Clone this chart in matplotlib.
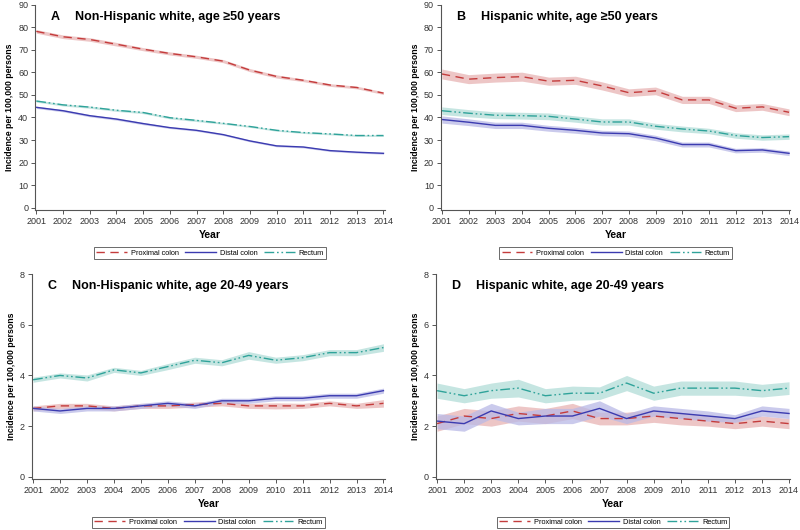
import matplotlib
matplotlib.use("Agg")
import matplotlib.pyplot as plt
from matplotlib.lines import Line2D

plt.rcParams['font.family'] = ['Liberation Sans', 'DejaVu Sans']

years = list(range(2001, 2015))

# panel A: non-Hispanic white, age >=50
a_prox = [78.2, 75.8, 74.6, 72.5, 70.3, 68.4, 66.9, 65.0, 61.0, 58.2, 56.5, 54.4, 53.3, 50.8]
a_prox_ci = [0.8, 0.8, 0.8, 0.8, 0.7, 0.7, 0.7, 0.7, 0.7, 0.7, 0.6, 0.6, 0.6, 0.6]
a_dist = [44.5, 43.0, 40.8, 39.3, 37.3, 35.5, 34.3, 32.4, 29.6, 27.4, 26.9, 25.3, 24.6, 24.1]
a_dist_ci = [0.5, 0.5, 0.5, 0.5, 0.5, 0.4, 0.4, 0.4, 0.4, 0.4, 0.4, 0.4, 0.4, 0.4]
a_rect = [47.3, 45.6, 44.6, 43.2, 42.2, 39.9, 38.7, 37.4, 36.0, 34.3, 33.3, 32.7, 32.0, 32.0]
a_rect_ci = [0.5, 0.5, 0.5, 0.5, 0.5, 0.5, 0.5, 0.4, 0.4, 0.4, 0.4, 0.4, 0.4, 0.4]

# panel B: Hispanic white, age >=50
b_prox = [59.3, 57.0, 57.7, 58.1, 56.1, 56.5, 54.0, 51.0, 51.8, 47.8, 47.8, 44.1, 44.7, 42.3]
b_prox_ci = [2.2, 2.0, 2.0, 2.0, 1.8, 1.8, 1.8, 1.7, 1.7, 1.6, 1.6, 1.5, 1.5, 1.5]
b_dist = [39.1, 37.9, 36.5, 36.5, 35.2, 34.3, 33.1, 32.8, 30.9, 28.0, 28.0, 25.3, 25.6, 24.1]
b_dist_ci = [1.6, 1.5, 1.4, 1.4, 1.3, 1.3, 1.2, 1.2, 1.2, 1.1, 1.1, 1.0, 1.0, 1.0]
b_rect = [43.0, 41.9, 41.0, 40.8, 40.5, 39.3, 38.0, 38.0, 36.1, 34.9, 34.0, 32.0, 31.1, 31.5]
b_rect_ci = [1.7, 1.6, 1.5, 1.5, 1.5, 1.4, 1.4, 1.4, 1.3, 1.3, 1.2, 1.2, 1.2, 1.2]

# panel C: non-Hispanic white, age 20-49
c_prox = [2.7, 2.8, 2.8, 2.7, 2.8, 2.8, 2.85, 2.9, 2.8, 2.8, 2.8, 2.9, 2.8, 2.9]
c_prox_ci = [0.1, 0.1, 0.1, 0.1, 0.1, 0.1, 0.1, 0.1, 0.1, 0.12, 0.1, 0.1, 0.1, 0.15]
c_dist = [2.7, 2.6, 2.7, 2.7, 2.8, 2.9, 2.8, 3.0, 3.0, 3.1, 3.1, 3.2, 3.2, 3.4]
c_dist_ci = [0.1, 0.1, 0.1, 0.1, 0.1, 0.1, 0.1, 0.1, 0.1, 0.1, 0.1, 0.1, 0.1, 0.1]
c_rect = [3.83, 4.0, 3.9, 4.22, 4.1, 4.35, 4.6, 4.5, 4.79, 4.6, 4.7, 4.9, 4.9, 5.1]
c_rect_ci = [0.1, 0.1, 0.12, 0.1, 0.1, 0.12, 0.12, 0.12, 0.15, 0.12, 0.12, 0.12, 0.12, 0.15]

# panel D: Hispanic white, age 20-49
d_prox = [2.1, 2.4, 2.3, 2.5, 2.4, 2.6, 2.3, 2.3, 2.4, 2.3, 2.2, 2.1, 2.2, 2.1]
d_prox_ci = [0.3, 0.3, 0.3, 0.3, 0.3, 0.3, 0.25, 0.25, 0.25, 0.25, 0.2, 0.2, 0.2, 0.2]
d_dist = [2.2, 2.1, 2.6, 2.3, 2.4, 2.4, 2.7, 2.3, 2.6, 2.5, 2.4, 2.3, 2.6, 2.5]
d_dist_ci = [0.3, 0.3, 0.3, 0.25, 0.3, 0.3, 0.3, 0.2, 0.2, 0.2, 0.2, 0.15, 0.2, 0.2]
d_rect = [3.4, 3.2, 3.4, 3.5, 3.2, 3.3, 3.3, 3.7, 3.3, 3.5, 3.5, 3.5, 3.4, 3.5]
d_rect_ci = [0.3, 0.28, 0.3, 0.35, 0.28, 0.28, 0.25, 0.3, 0.28, 0.28, 0.28, 0.28, 0.25, 0.25]

series_names = ["Proximal colon", "Distal colon", "Rectum"]
line_cols = ["#c43c3c", "#3b3bb0", "#2fa39a"]
band_cols = ["#e8b4b4", "#b9b9e6", "#b2ddd8"]
styles = [(0, (6, 4)), "-", (0, (7, 2, 1.2, 2, 1.2, 2))]

panels = [
    ("A", "Non-Hispanic white, age \u226550 years", [0.044, 0.604, 0.437, 0.387],
     (0, 90, 10), [(a_prox, a_prox_ci), (a_dist, a_dist_ci), (a_rect, a_rect_ci)]),
    ("B", "Hispanic white, age \u226550 years", [0.551, 0.604, 0.437, 0.387],
     (0, 90, 10), [(b_prox, b_prox_ci), (b_dist, b_dist_ci), (b_rect, b_rect_ci)]),
    ("C", "Non-Hispanic white, age 20-49 years", [0.040, 0.096, 0.441, 0.387],
     (0, 8, 2), [(c_prox, c_prox_ci), (c_dist, c_dist_ci), (c_rect, c_rect_ci)]),
    ("D", "Hispanic white, age 20-49 years", [0.545, 0.096, 0.443, 0.387],
     (0, 8, 2), [(d_prox, d_prox_ci), (d_dist, d_dist_ci), (d_rect, d_rect_ci)]),
]

fig = plt.figure(figsize=(8, 5.3), dpi=100)
grey = "#555555"

for letter, title, pos, (ylo, yhi, ystep), data in panels:
    ax = fig.add_axes(pos)
    for (vals, ci), lc, bc, ls in zip(data, line_cols, band_cols, styles):
        lo = [v - c for v, c in zip(vals, ci)]
        hi = [v + c for v, c in zip(vals, ci)]
        ax.fill_between(years, lo, hi, color=bc, alpha=0.75, lw=0)
    for (vals, ci), lc, ls in zip(data, line_cols, styles):
        ax.plot(years, vals, color=lc, ls=ls, lw=1.0)
    pad = (yhi - ylo) * 0.011
    ax.set_ylim(ylo - pad, yhi)
    ax.set_xlim(2000.96, 2014.05)
    ax.set_xticks(years)
    ax.set_yticks(range(ylo, yhi + 1, ystep))
    for s in ["top", "right"]:
        ax.spines[s].set_visible(False)
    for s in ["left", "bottom"]:
        ax.spines[s].set_color(grey)
        ax.spines[s].set_linewidth(0.8)
    ax.tick_params(direction="out", length=3, width=0.7, color=grey,
                   labelsize=6.5, labelcolor="#333333", pad=2)
    ax.set_xlabel("Year", fontsize=7.5, fontweight="bold", labelpad=3)
    ax.set_ylabel("Incidence per 100,000 persons", fontsize=6.3, fontweight="bold", labelpad=3)
    ax.text(0.043, 0.94, letter, transform=ax.transAxes, fontsize=9,
            fontweight="bold", va="center")
    ax.text(0.114, 0.94, title, transform=ax.transAxes, fontsize=9,
            fontweight="bold", va="center")
    handles = [Line2D([], [], color=lc, ls=ls, lw=1.0)
               for lc, ls in zip(line_cols, styles)]
    leg = ax.legend(handles, series_names, loc="upper center",
                    bbox_to_anchor=(0.5, -0.165), ncol=3, fontsize=5.3,
                    frameon=True, fancybox=False, handlelength=4.2,
                    columnspacing=0.9, handletextpad=0.5, borderpad=0.3)
    leg.get_frame().set_edgecolor("#444444")
    leg.get_frame().set_linewidth(0.7)

fig.savefig("out.png", dpi=100)
